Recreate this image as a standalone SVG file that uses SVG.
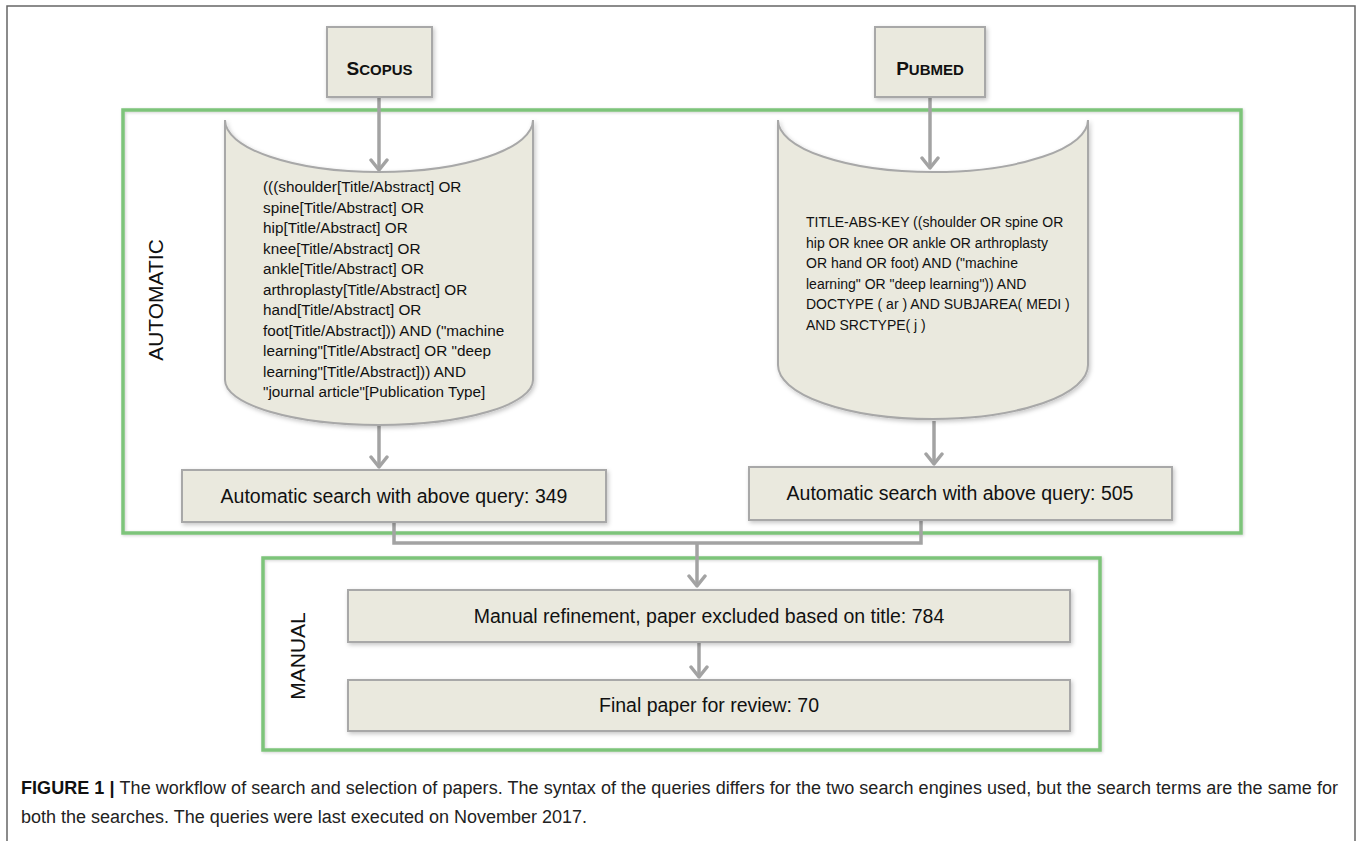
<svg xmlns="http://www.w3.org/2000/svg" width="1358" height="841" viewBox="0 0 1358 841">
<style>
.box{fill:#eae9de;stroke:#a8a8a8;stroke-width:2;filter:url(#sh)}
.grp{fill:none;stroke:#7dc47a;stroke-width:3.5;filter:url(#gl)}
.lbl{font-family:"Liberation Sans",Arial,sans-serif;fill:#111}
.q{font-family:"Liberation Sans",Arial,sans-serif;fill:#111}
.con{fill:none;stroke:#a3a3a3;stroke-width:3.5}
.cap{font-family:"Liberation Sans",Arial,sans-serif;font-size:18px;fill:#222}
</style>
<defs>
<filter id="sh" x="-10%" y="-10%" width="130%" height="140%">
<feDropShadow dx="1.5" dy="2" stdDeviation="2" flood-color="#000" flood-opacity="0.22"/>
</filter>
<filter id="gl" x="-5%" y="-5%" width="110%" height="110%">
<feDropShadow dx="1" dy="1" stdDeviation="1.5" flood-color="#000" flood-opacity="0.18"/>
</filter>
<marker id="ah" markerUnits="userSpaceOnUse" markerWidth="24" markerHeight="24" viewBox="-12 -12 24 24" refX="0" refY="0" orient="auto">
<path d="M-10,-8 L0,0 L-10,8" fill="none" stroke="#a3a3a3" stroke-width="3.5" stroke-linecap="round" stroke-linejoin="round"/>
</marker>
</defs>
<rect x="0" y="0" width="1358" height="841" fill="#fff"/>
<rect x="7" y="6" width="1348" height="900" fill="none" stroke="#666" stroke-width="1.5"/>

<g id="automatic-group">
<rect class="grp" x="123" y="110" width="1118" height="423"/>
<text class="lbl" font-size="21" text-anchor="middle" transform="translate(163,300) rotate(-90)">AUTOMATIC</text>
</g>
<g id="manual-group">
<rect class="grp" x="263" y="558" width="837" height="192"/>
<text class="lbl" font-size="21" text-anchor="middle" transform="translate(305,656) rotate(-90)">MANUAL</text>
</g>

<g id="connectors">
<line class="con" x1="379" y1="98" x2="379" y2="170" marker-end="url(#ah)"/>
<line class="con" x1="930" y1="98" x2="930" y2="168" marker-end="url(#ah)"/>
<line class="con" x1="379" y1="426" x2="379" y2="467" marker-end="url(#ah)"/>
<line class="con" x1="934" y1="421" x2="934" y2="464" marker-end="url(#ah)"/>
<polyline class="con" points="394,523 394,543 921,543 921,521"/>
<line class="con" x1="697" y1="543" x2="697" y2="586" marker-end="url(#ah)"/>
<line class="con" x1="699" y1="643" x2="699" y2="677" marker-end="url(#ah)"/>
</g>

<g id="scopus">
<rect class="box" x="327" y="27" width="105" height="70"/>
<text class="lbl" x="379.5" y="75" text-anchor="middle" font-weight="bold" font-size="19">S<tspan font-size="15">COPUS</tspan></text>
</g>
<g id="pubmed">
<rect class="box" x="875" y="27" width="110" height="70"/>
<text class="lbl" x="930" y="75" text-anchor="middle" font-weight="bold" font-size="19">P<tspan font-size="15">UBMED</tspan></text>
</g>

<g id="scopus-query">
<path class="box" d="M225,120 A154,52 0 0 0 533,120 L533,380 A154,45 0 0 1 225,380 Z"/>
<text class="q" font-size="15.3">
<tspan x="263" y="192">(((shoulder[Title/Abstract] OR</tspan>
<tspan x="263" y="212.5">spine[Title/Abstract] OR</tspan>
<tspan x="263" y="233">hip[Title/Abstract] OR</tspan>
<tspan x="263" y="253.5">knee[Title/Abstract] OR</tspan>
<tspan x="263" y="274">ankle[Title/Abstract] OR</tspan>
<tspan x="263" y="294.5">arthroplasty[Title/Abstract] OR</tspan>
<tspan x="263" y="315">hand[Title/Abstract] OR</tspan>
<tspan x="263" y="335.5">foot[Title/Abstract])) AND ("machine</tspan>
<tspan x="263" y="356">learning"[Title/Abstract] OR "deep</tspan>
<tspan x="263" y="376.5">learning"[Title/Abstract])) AND</tspan>
<tspan x="263" y="397">"journal article"[Publication Type]</tspan>
</text>
</g>

<g id="pubmed-query">
<path class="box" d="M778,120 A155,52 0 0 0 1088,120 L1088,365 A155,54 0 0 1 778,365 Z"/>
<text class="q" font-size="14">
<tspan x="806" y="227">TITLE-ABS-KEY ((shoulder OR spine OR</tspan>
<tspan x="806" y="247.5">hip OR knee OR ankle OR arthroplasty</tspan>
<tspan x="806" y="268">OR hand OR foot) AND ("machine</tspan>
<tspan x="806" y="288.5">learning" OR "deep learning"))  AND</tspan>
<tspan x="806" y="309">DOCTYPE ( ar ) AND SUBJAREA( MEDI )</tspan>
<tspan x="806" y="329.5">AND SRCTYPE( j )</tspan>
</text>
</g>

<g id="scopus-result">
<rect class="box" x="182" y="470" width="424" height="52"/>
<text class="lbl" x="394" y="503" text-anchor="middle" font-size="19.5">Automatic search with above query: 349</text>
</g>
<g id="pubmed-result">
<rect class="box" x="749" y="467" width="423" height="53"/>
<text class="lbl" x="960" y="500" text-anchor="middle" font-size="19.5">Automatic search with above query: 505</text>
</g>

<g id="manual-refinement">
<rect class="box" x="348" y="590" width="722" height="52"/>
<text class="lbl" x="709" y="623" text-anchor="middle" font-size="19.5">Manual refinement, paper excluded based on title: 784</text>
</g>
<g id="final-paper">
<rect class="box" x="348" y="680" width="722" height="51"/>
<text class="lbl" x="709" y="712" text-anchor="middle" font-size="19.5">Final paper for review: 70</text>
</g>

<g id="caption">
<text class="cap" x="21" y="794" textLength="1317" lengthAdjust="spacing"><tspan font-weight="bold" fill="#111">FIGURE 1 | </tspan>The workflow of search and selection of papers. The syntax of the queries differs for the two search engines used, but the search terms are the same for</text>
<text class="cap" x="21" y="823">both the searches. The queries were last executed on November 2017.</text>
</g>
</svg>
